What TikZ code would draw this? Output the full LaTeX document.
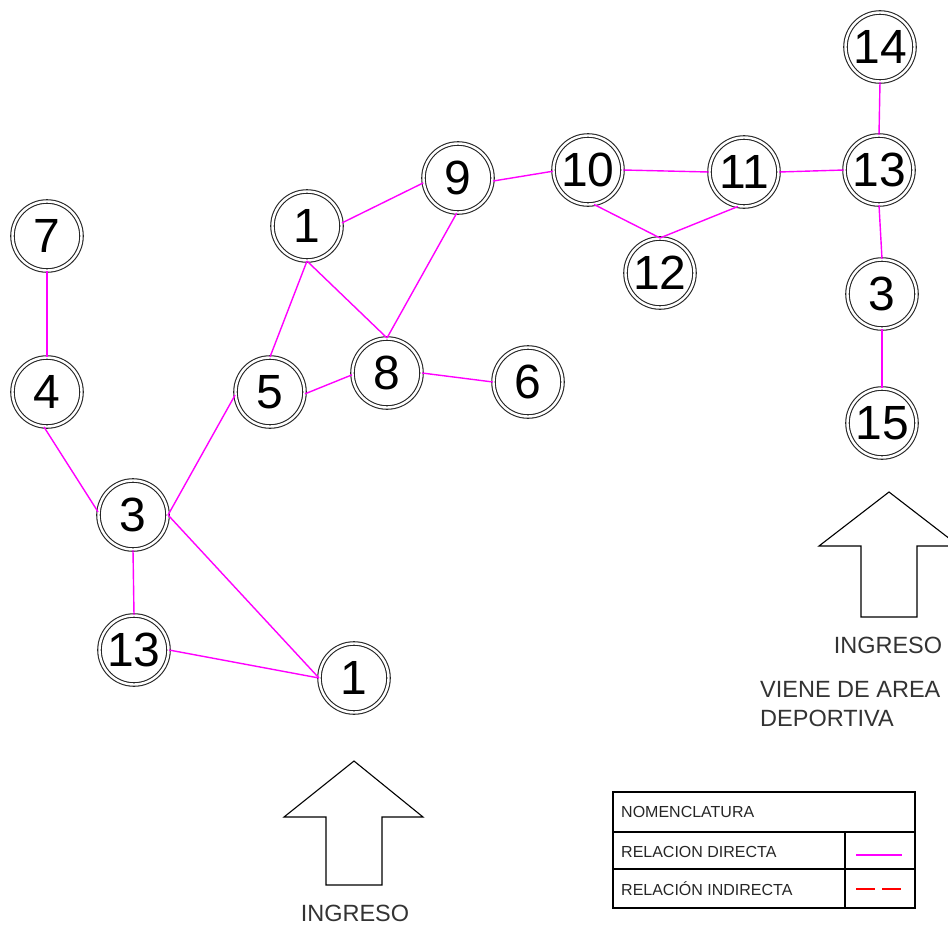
\documentclass[tikz,border=0pt]{standalone}
\usepackage{fontspec}
\setmainfont{Liberation Sans}
\begin{document}
\begin{tikzpicture}[x=1pt,y=-1pt,
  room/.style={circle, draw=black!85, double=white, double distance=2.4pt, line width=1.1pt,
    minimum size=69pt, inner sep=0pt, font=\fontsize{48}{48}\selectfont},
  rel/.style={draw={rgb,255:red,255;green,0;blue,255}, line width=1.4pt},
  lbl/.style={font=\fontsize{23.5}{28}\selectfont, text=black!80, inner sep=0pt},
  leg/.style={font=\fontsize{16}{18}\selectfont, text=black!85, inner sep=0pt, anchor=west},
  arrowshape/.style={draw=black, line width=1.1pt, fill=white, line join=miter}]
\useasboundingbox (0,0) rectangle (948,929);
% rooms
\node[room] (n7)  at (47,236)  {7};
\node[room] (n4)  at (47,392)  {4};
\node[room] (n3L) at (133,515) {3};
\node[room] (n13L) at (134,650) {13};
\node[room] (n1B) at (354,678) {1};
\node[room] (n5)  at (270,392) {5};
\node[room] (n1T) at (307,226) {1};
\node[room] (n8)  at (387,373) {8};
\node[room] (n6)  at (528,382) {6};
\node[room] (n9)  at (458,178) {9};
\node[room] (n10) at (588,170) {10};
\node[room] (n11) at (744,172) {11};
\node[room] (n12) at (660,273) {12};
\node[room] (n13R) at (879,170) {13};
\node[room] (n14) at (880,47)  {14};
\node[room] (n3R) at (882,294) {3};
\node[room] (n15) at (882,423) {15};
% relations
\draw[rel] (n7.south) -- (n4.north);
\draw[rel] (n4.-95) -- (n3L.175);
\draw[rel] (n3L.0) -- (n5.185);
\draw[rel] (n3L.0) -- (n1B.180);
\draw[rel] (n3L.south) -- (n13L.north);
\draw[rel] (n13L.0) -- (n1B.180);
\draw[rel] (n5.90) -- (n1T.-90);
\draw[rel] (n1T.-90) -- (n8.90);
\draw[rel] (n9.-92) -- (n8.90);
\draw[rel] (n1T.5) -- (n9.188);
\draw[rel] (n5.-3) -- (n8.183);
\draw[rel] (n8.0) -- (n6.180);
\draw[rel] (n9.-5) -- (n10.182);
\draw[rel] (n10.0) -- (n11.180);
\draw[rel] (n10.-80) -- (n12.90);
\draw[rel] (n11.-100) -- (n12.90);
\draw[rel] (n11.0) -- (n13R.180);
\draw[rel] (n14.south) -- (n13R.north);
\draw[rel] (n13R.south) -- (n3R.north);
\draw[rel] (n3R.south) -- (n15.north);
% entrance arrows
\draw[arrowshape] (354,761) -- (423,817) -- (382,817) -- (382,885) -- (326,885) -- (326,817) -- (284,817) -- cycle;
\node[lbl] (ing1) at (355,913) {INGRESO};
\draw[arrowshape] (889,492) -- (959,546) -- (917,546) -- (917,617) -- (861,617) -- (861,546) -- (819,546) -- cycle;
\node[lbl] (ing2) at (888,645) {INGRESO};
\node[lbl, anchor=west] (vien) at (760,689) {VIENE DE AREA};
\node[lbl, anchor=west] (depo) at (760,718) {DEPORTIVA};
% legend
\draw[line width=2.6pt, line join=miter] (613,792) rectangle (915,908);
\draw[line width=1.3pt] (613,832) -- (915,832);
\draw[line width=1.3pt] (613,869) -- (915,869);
\draw[line width=1.3pt] (845,832) -- (845,908);
\node[leg] (lt) at (621,812) {NOMENCLATURA};
\node[leg] (ld) at (621,852) {RELACION DIRECTA};
\node[leg] (li) at (621,889) {RELACIÓN INDIRECTA};
\coordinate (da) at (856,855);
\coordinate (db) at (902,855);
\coordinate (ia) at (856,889);
\coordinate (ib) at (902,889);
\draw[rel] (da) -- (db);
\draw[red, line width=1.3pt, dash pattern=on 19pt off 7pt] (ia) -- (ib);
\end{tikzpicture}
\end{document}
